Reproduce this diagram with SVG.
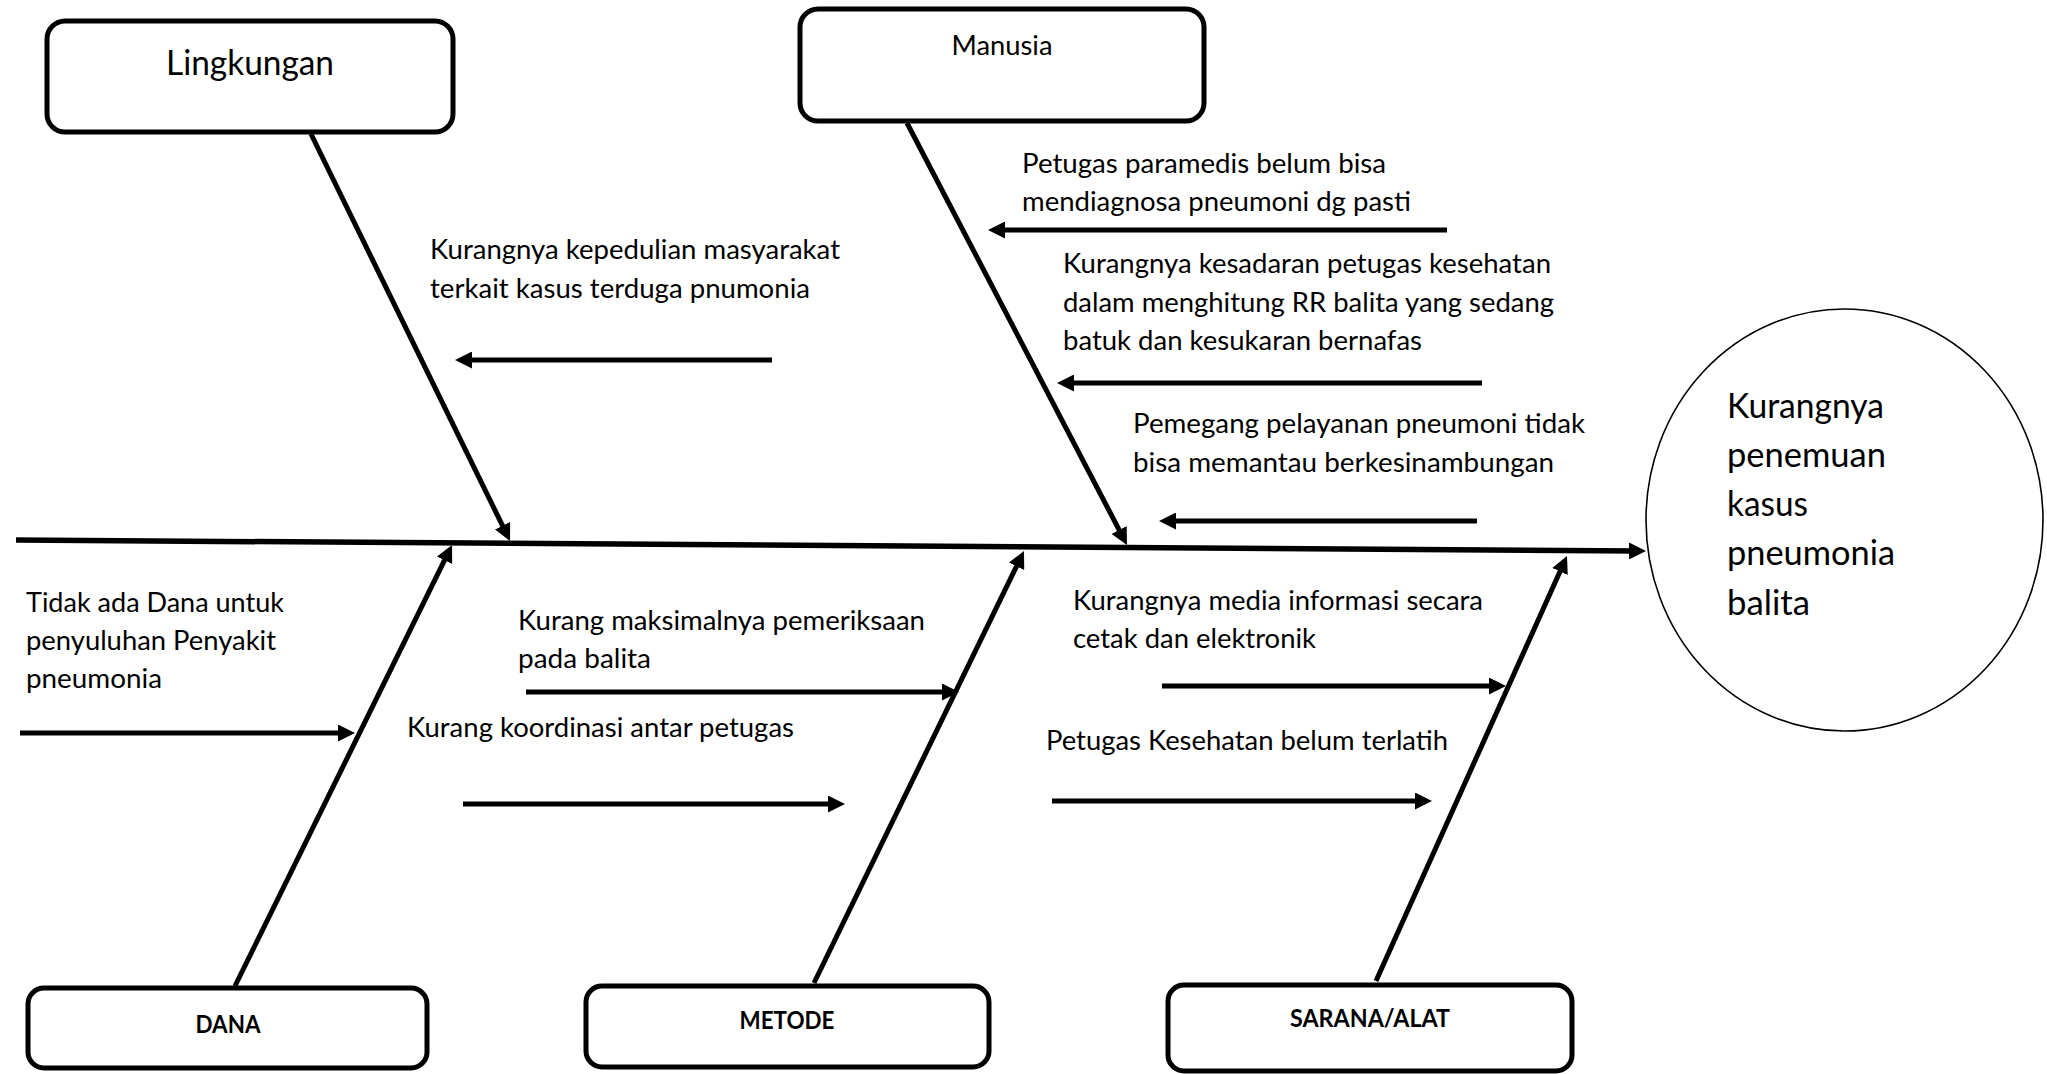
<svg xmlns="http://www.w3.org/2000/svg" width="2047" height="1074" viewBox="0 0 2047 1074">
  <style>
    .box { fill: #ffffff; stroke: #000000; stroke-width: 5; }
    .effect { fill: #ffffff; stroke: #000000; stroke-width: 1.6; }
    .t { font-family: "Lato", "Open Sans", sans-serif; font-size: 27px; fill: #000000; }
    .big { font-family: "Lato", "Open Sans", sans-serif; font-size: 34px; fill: #000000; }
    .lbl { font-family: "Lato", "Open Sans", sans-serif; font-size: 24px; font-weight: bold; fill: #000000; }
    .line { stroke: #000000; stroke-width: 5; fill: none; }
    .spine { stroke: #000000; stroke-width: 5.5; fill: none; }
  </style>
  <defs>
    <marker id="ah" viewBox="0 0 17 17" markerWidth="17" markerHeight="17" refX="9" refY="8.5" orient="auto" markerUnits="userSpaceOnUse">
      <path d="M0,0 L17,8.5 L0,17 Z" fill="#000000"/>
    </marker>
  </defs>
  <rect width="2047" height="1074" fill="#ffffff"/>

  <g id="connectors">
    <line id="spine" class="spine" x1="16" y1="540" x2="1638" y2="551" marker-end="url(#ah)"/>
    <line id="bone-lingkungan" class="line" x1="311" y1="134" x2="506.5" y2="533.8" marker-end="url(#ah)"/>
    <line id="bone-manusia" class="line" x1="907" y1="123" x2="1123.3" y2="537.9" marker-end="url(#ah)"/>
    <line id="bone-dana" class="line" x1="235" y1="986" x2="448.5" y2="552.2" marker-end="url(#ah)"/>
    <line id="bone-metode" class="line" x1="814" y1="983" x2="1020.5" y2="558.2" marker-end="url(#ah)"/>
    <line id="bone-sarana" class="line" x1="1376" y1="981" x2="1563.7" y2="563.3" marker-end="url(#ah)"/>
    <line class="line" x1="772" y1="360" x2="463" y2="360" marker-end="url(#ah)"/>
    <line class="line" x1="1447" y1="230" x2="996" y2="230" marker-end="url(#ah)"/>
    <line class="line" x1="1482" y1="383" x2="1065" y2="383" marker-end="url(#ah)"/>
    <line class="line" x1="1477" y1="521" x2="1167" y2="521" marker-end="url(#ah)"/>
    <line class="line" x1="20" y1="733" x2="347" y2="733" marker-end="url(#ah)"/>
    <line class="line" x1="526" y1="692" x2="951" y2="692" marker-end="url(#ah)"/>
    <line class="line" x1="463" y1="804" x2="837" y2="804" marker-end="url(#ah)"/>
    <line class="line" x1="1162" y1="686" x2="1498" y2="686" marker-end="url(#ah)"/>
    <line class="line" x1="1052" y1="801" x2="1424" y2="801" marker-end="url(#ah)"/>
  </g>

  <g id="node-lingkungan">
    <rect class="box" x="47" y="21" width="406" height="111" rx="18"/>
    <text class="big" x="250" y="75" text-anchor="middle" textLength="168" lengthAdjust="spacingAndGlyphs">Lingkungan</text>
  </g>
  <g id="node-manusia">
    <rect class="box" x="800" y="9" width="404" height="112" rx="18"/>
    <text class="t" x="1002" y="55" text-anchor="middle" textLength="101" lengthAdjust="spacingAndGlyphs">Manusia</text>
  </g>
  <g id="node-dana">
    <rect class="box" x="28" y="988" width="399" height="80" rx="16"/>
    <text class="lbl" x="228" y="1033" text-anchor="middle" textLength="65" lengthAdjust="spacingAndGlyphs">DANA</text>
  </g>
  <g id="node-metode">
    <rect class="box" x="586" y="986" width="403" height="81" rx="16"/>
    <text class="lbl" x="787" y="1029" text-anchor="middle" textLength="95" lengthAdjust="spacingAndGlyphs">METODE</text>
  </g>
  <g id="node-sarana">
    <rect class="box" x="1168" y="985" width="404" height="86" rx="16"/>
    <text class="lbl" x="1370" y="1027" text-anchor="middle" textLength="160" lengthAdjust="spacingAndGlyphs">SARANA/ALAT</text>
  </g>

  <g id="node-effect">
    <ellipse class="effect" cx="1844.5" cy="520" rx="198.5" ry="211"/>
    <text class="big" x="1727" y="418" textLength="157" lengthAdjust="spacingAndGlyphs">Kurangnya</text>
    <text class="big" x="1727" y="467" textLength="159" lengthAdjust="spacingAndGlyphs">penemuan</text>
    <text class="big" x="1727" y="516" textLength="81" lengthAdjust="spacingAndGlyphs">kasus</text>
    <text class="big" x="1727" y="565" textLength="168" lengthAdjust="spacingAndGlyphs">pneumonia</text>
    <text class="big" x="1727" y="615" textLength="83" lengthAdjust="spacingAndGlyphs">balita</text>
  </g>

  <g id="cause-lingkungan-1">
    <text class="t" x="430" y="259" textLength="410" lengthAdjust="spacingAndGlyphs">Kurangnya kepedulian masyarakat</text>
    <text class="t" x="430" y="298" textLength="380" lengthAdjust="spacingAndGlyphs">terkait kasus terduga pnumonia</text>
  </g>
  <g id="cause-manusia-1">
    <text class="t" x="1022" y="173" textLength="364" lengthAdjust="spacingAndGlyphs">Petugas paramedis belum bisa</text>
    <text class="t" x="1022" y="211" textLength="389" lengthAdjust="spacingAndGlyphs">mendiagnosa pneumoni dg pasti</text>
  </g>
  <g id="cause-manusia-2">
    <text class="t" x="1063" y="273" textLength="488" lengthAdjust="spacingAndGlyphs">Kurangnya kesadaran petugas kesehatan</text>
    <text class="t" x="1063" y="312" textLength="491" lengthAdjust="spacingAndGlyphs">dalam menghitung RR balita yang sedang</text>
    <text class="t" x="1063" y="350" textLength="359" lengthAdjust="spacingAndGlyphs">batuk dan kesukaran bernafas</text>
  </g>
  <g id="cause-manusia-3">
    <text class="t" x="1133" y="433" textLength="452" lengthAdjust="spacingAndGlyphs">Pemegang pelayanan pneumoni tidak</text>
    <text class="t" x="1133" y="472" textLength="421" lengthAdjust="spacingAndGlyphs">bisa memantau berkesinambungan</text>
  </g>
  <g id="cause-dana-1">
    <text class="t" x="26" y="612" textLength="258" lengthAdjust="spacingAndGlyphs">Tidak ada Dana untuk</text>
    <text class="t" x="26" y="650" textLength="250" lengthAdjust="spacingAndGlyphs">penyuluhan Penyakit</text>
    <text class="t" x="26" y="688" textLength="136" lengthAdjust="spacingAndGlyphs">pneumonia</text>
  </g>
  <g id="cause-metode-1">
    <text class="t" x="518" y="630" textLength="407" lengthAdjust="spacingAndGlyphs">Kurang maksimalnya pemeriksaan</text>
    <text class="t" x="518" y="668" textLength="133" lengthAdjust="spacingAndGlyphs">pada balita</text>
  </g>
  <g id="cause-metode-2">
    <text class="t" x="407" y="737" textLength="387" lengthAdjust="spacingAndGlyphs">Kurang koordinasi antar petugas</text>
  </g>
  <g id="cause-sarana-1">
    <text class="t" x="1073" y="610" textLength="410" lengthAdjust="spacingAndGlyphs">Kurangnya media informasi secara</text>
    <text class="t" x="1073" y="648" textLength="243" lengthAdjust="spacingAndGlyphs">cetak dan elektronik</text>
  </g>
  <g id="cause-sarana-2">
    <text class="t" x="1046" y="750" textLength="402" lengthAdjust="spacingAndGlyphs">Petugas Kesehatan belum terlatih</text>
  </g>
</svg>
